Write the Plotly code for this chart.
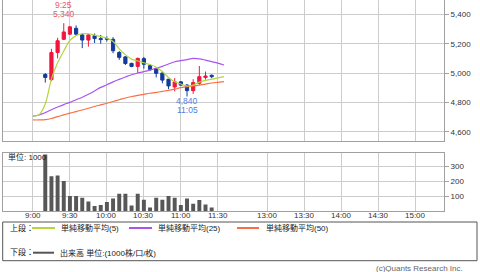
import plotly.graph_objects as go

# ---------------- data ----------------
candle_times = ["9:10", "9:15", "9:20", "9:25", "9:30", "9:35", "9:40", "9:45", "9:50", "9:55",
                "10:00", "10:05", "10:10", "10:15", "10:20", "10:25", "10:30", "10:35", "10:40", "10:45",
                "10:50", "10:55", "11:00", "11:05", "11:10", "11:15", "11:20", "11:25"]
opens = [4990, 4955, 5140, 5230, 5265, 5305, 5260, 5225, 5255, 5235,
         5235, 5230, 5140, 5110, 5066, 5045, 5098, 5050, 5030, 5000,
         4958, 4905, 4940, 4918, 4880, 4930, 4970, 4985]
highs = [5000, 5165, 5240, 5340, 5320, 5325, 5270, 5265, 5270, 5260,
         5250, 5245, 5150, 5115, 5070, 5105, 5110, 5060, 5035, 5005,
         4960, 4965, 4945, 4925, 4958, 5048, 5010, 4990]
lows = [4935, 4945, 5100, 5225, 5260, 5255, 5170, 5180, 5205, 5200,
        5215, 5135, 5090, 5055, 5040, 5000, 5030, 5015, 4970, 4930,
        4890, 4875, 4912, 4840, 4858, 4920, 4955, 4965]
closes = [4970, 5140, 5220, 5280, 5315, 5265, 5225, 5260, 5235, 5228,
          5230, 5152, 5107, 5065, 5045, 5100, 5060, 5025, 4998, 4952,
          4912, 4940, 4918, 4880, 4935, 4975, 4980, 4975]
volumes = [378, 233, 238, 200, 100, 100, 89, 63, 33, 40,
           60, 83, 116, 116, 36, 116, 76, 24, 89, 76,
           100, 89, 40, 84, 49, 73, 44, 24]

ma_times = ["9:00", "9:05", "9:10", "9:15", "9:20", "9:25", "9:30", "9:35", "9:40", "9:45",
            "9:50", "9:55", "10:00", "10:05", "10:10", "10:15", "10:20", "10:25", "10:30", "10:35",
            "10:40", "10:45", "10:50", "10:55", "11:00", "11:05", "11:10", "11:15", "11:20", "11:25",
            "11:30", "11:35"]
ma5 = [4706, 4715, 4790, 4960, 5070, 5150, 5222, 5255, 5268, 5268,
       5258, 5248, 5238, 5215, 5165, 5125, 5095, 5082, 5070, 5058,
       5040, 5010, 4970, 4940, 4925, 4912, 4918, 4938, 4950, 4958,
       4967, 4975]
ma25 = [4706, 4714, 4730, 4750, 4768, 4785, 4800, 4818, 4835, 4855,
        4878, 4902, 4920, 4940, 4957, 4973, 4988, 5000, 5010, 5020,
        5033, 5045, 5062, 5077, 5085, 5092, 5100, 5097, 5088, 5078,
        5068, 5055]
ma50 = [4680, 4680, 4682, 4690, 4703, 4715, 4727, 4737, 4748, 4760,
        4772, 4783, 4794, 4806, 4818, 4830, 4840, 4848, 4855, 4862,
        4868, 4875, 4882, 4890, 4900, 4907, 4912, 4918, 4925, 4932,
        4937, 4942]

axis_times = ["9:00", "9:30", "10:00", "10:30", "11:00", "11:30", "13:00", "13:30", "14:00", "14:30", "15:00"]
price_ticks = [4600, 4800, 5000, 5200, 5400]
volume_ticks = [100, 200, 300]

high_label = ("9:25", "5,340", 5340)
low_label = ("11:05", "4,840", 4840)

# ---------------- scale: trading-session time -> axis position ----------------
def xpos(t):
    h, m = map(int, t.split(":"))
    mins = h * 60 + m
    if mins <= 11 * 60 + 35:
        return mins - 9 * 60
    return mins - (12 * 60 + 30) + 160


FONT = "Liberation Sans, Arial, Noto Sans CJK JP, sans-serif"
UP = "#f2163e"
DOWN = "#133b9c"
GRID = "#cccccc"
BORDER = "#a0a0a0"

cx = [xpos(t) for t in candle_times]
mx = [xpos(t) for t in ma_times]

fig = go.Figure()

# wicks
for col, cond in ((UP, True), (DOWN, False)):
    wx, wy = [], []
    for x, o, h, l, c in zip(cx, opens, highs, lows, closes):
        if (c >= o) == cond:
            wx += [x, x, None]
            wy += [l, h, None]
    fig.add_trace(go.Scatter(x=wx, y=wy, mode="lines", line=dict(color=col, width=1),
                             hoverinfo="skip", xaxis="x", yaxis="y"))

# bodies
body_base = [min(o, c) for o, c in zip(opens, closes)]
body_h = [abs(c - o) for o, c in zip(opens, closes)]
body_col = [UP if c >= o else DOWN for o, c in zip(opens, closes)]
fig.add_trace(go.Bar(x=cx, y=body_h, base=body_base, width=2.6,
                     marker=dict(color=body_col, line=dict(color=body_col, width=1)),
                     xaxis="x", yaxis="y"))

# moving averages
fig.add_trace(go.Scatter(x=mx, y=ma50, mode="lines", line=dict(color="#fa6e45", width=1.2, shape="spline"),
                         xaxis="x", yaxis="y"))
fig.add_trace(go.Scatter(x=mx, y=ma25, mode="lines", line=dict(color="#a855f0", width=1.2, shape="spline"),
                         xaxis="x", yaxis="y"))
fig.add_trace(go.Scatter(x=mx, y=ma5, mode="lines", line=dict(color="#b4d63c", width=1.2, shape="spline"),
                         xaxis="x", yaxis="y"))

# volume
fig.add_trace(go.Bar(x=cx, y=volumes, width=3.2, marker=dict(color="#575757", line=dict(width=0)),
                     xaxis="x2", yaxis="y2"))

tickpos = [xpos(t) for t in axis_times]
xr = [-24.3, 333.5]

common_x = dict(range=xr, tickvals=tickpos, ticktext=axis_times, showgrid=True, gridcolor=GRID,
                gridwidth=1, zeroline=False, showline=True, mirror=True, linecolor=BORDER, linewidth=1,
                ticks="", fixedrange=True, showticklabels=False)

fig.update_layout(
    width=480, height=272,
    margin=dict(l=3, r=36, t=0, b=61),
    paper_bgcolor="white", plot_bgcolor="white",
    showlegend=False, barmode="overlay",
    font=dict(family=FONT, size=8, color="#333333"),
    xaxis=dict(anchor="y", **common_x),
    xaxis2=dict(anchor="y2", matches="x", **common_x),
    yaxis=dict(domain=[0.332, 1.0], range=[4537, 5498], side="right",
               tickvals=price_ticks, ticktext=[f"{v:,}" for v in price_ticks],
               showgrid=True, gridcolor=GRID, zeroline=False, showline=True, mirror=True,
               linecolor=BORDER, ticks="outside", ticklen=4, tickcolor=BORDER,
               tickfont=dict(family=FONT, size=8, color="#333333")),
    yaxis2=dict(domain=[0.0, 0.2763], range=[0, 390], side="right",
                tickvals=volume_ticks, ticktext=[str(v) for v in volume_ticks],
                showgrid=True, gridcolor=GRID, zeroline=False, showline=True, mirror=True,
                linecolor=BORDER, ticks="outside", ticklen=4, tickcolor=BORDER,
                tickfont=dict(family=FONT, size=8, color="#333333")),
)


def px(xp):
    return (xp - 3) / 441.0


def py(yp):
    return (211 - yp) / 211.0


ann = []
# time-axis labels (placed tight under the volume panel, as in the reference)
for tv, tt in zip(tickpos, axis_times):
    ann.append(dict(x=tv, y=py(216), xref="x2", yref="paper", text=tt, showarrow=False,
                    xanchor="center", yanchor="middle", font=dict(family=FONT, size=8, color="#333333")))

# high / low markers
hx = xpos(high_label[0])
ann.append(dict(x=hx, y=high_label[2], xref="x", yref="y", text=high_label[1], showarrow=False,
                yanchor="middle", yshift=9, font=dict(family=FONT, size=8.5, color="#e55a68")))
ann.append(dict(x=hx, y=high_label[2], xref="x", yref="y", text=high_label[0], showarrow=False,
                yanchor="middle", yshift=18, font=dict(family=FONT, size=8.5, color="#e55a68")))
lx = xpos(low_label[0])
ann.append(dict(x=lx, y=low_label[2], xref="x", yref="y", text=low_label[1], showarrow=False,
                yanchor="middle", yshift=-4.5, font=dict(family=FONT, size=8.5, color="#4f7fe6")))
ann.append(dict(x=lx, y=low_label[2], xref="x", yref="y", text=low_label[0], showarrow=False,
                yanchor="middle", yshift=-13.5, font=dict(family=FONT, size=8.5, color="#4f7fe6")))

# volume unit label
ann.append(dict(x=px(6), y=py(157), xref="paper", yref="paper", text="単位: 1000", showarrow=False,
                xanchor="left", yanchor="middle", font=dict(family=FONT, size=8, color="#222222")))

shapes = [dict(type="rect", xref="paper", yref="paper", x0=px(2.7), x1=px(477), y0=py(260.7), y1=py(222),
               line=dict(color="#555555", width=1), fillcolor="rgba(0,0,0,0)")]

legend_rows = [
    (228, "上段：", [("#b4d63c", 32, 55, 59, "単純移動平均(5)"),
                   ("#a855f0", 129, 152, 156, "単純移動平均(25)"),
                   ("#fa6e45", 237, 259, 264, "単純移動平均(50)")]),
    (252.7, "下段：", [("#555555", 33, 54, 58, "出来高 単位:(1000株/口/枚)")]),
]
for yrow, head, items in legend_rows:
    ann.append(dict(x=px(8), y=py(yrow), xref="paper", yref="paper", text=head, showarrow=False,
                    xanchor="left", yanchor="middle", font=dict(family=FONT, size=8, color="#222222")))
    for col, lx0, lx1, tx, label in items:
        shapes.append(dict(type="line", xref="paper", yref="paper", x0=px(lx0), x1=px(lx1),
                           y0=py(yrow), y1=py(yrow), line=dict(color=col, width=2)))
        ann.append(dict(x=px(tx), y=py(yrow), xref="paper", yref="paper", text=label, showarrow=False,
                        xanchor="left", yanchor="middle", font=dict(family=FONT, size=8, color="#222222")))

ann.append(dict(x=px(465), y=py(268.5), xref="paper", yref="paper", text="(c)Quants Research Inc.",
                showarrow=False, xanchor="right", yanchor="middle",
                font=dict(family=FONT, size=8, color="#666666")))

fig.update_layout(annotations=ann, shapes=shapes)
fig.write_html("out.html")
